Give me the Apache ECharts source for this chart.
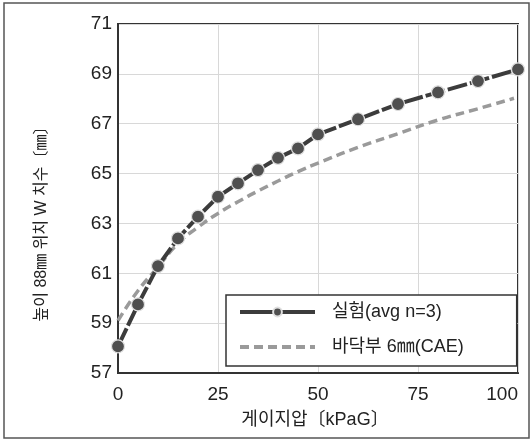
<!DOCTYPE html>
<html>
<head>
<meta charset="utf-8">
<script src="https://cdn.jsdelivr.net/npm/echarts@6/dist/echarts.min.js"></script>
<style>
  html, body { margin: 0; padding: 0; background: #fff; }
  #chart { width: 532px; height: 441px; }
</style>
</head>
<body>
<div id="chart"></div>
<script>
var FONT = "'Liberation Sans', 'Noto Sans CJK KR', sans-serif";

// 게이지압 (kPaG)
var expX = [0, 5, 10, 15, 20, 25, 30, 35, 40, 45, 50, 60, 70, 80, 90, 100];
var expY = [58.07, 59.75, 61.29, 62.40, 63.27, 64.07, 64.61, 65.14, 65.63, 66.01, 66.57, 67.18, 67.79, 68.26, 68.71, 69.18];

var caeX = [0, 5, 10, 15, 20, 25, 30, 35, 40, 45, 50, 60, 70, 80, 90, 99];
var caeY = [59.1, 60.3, 61.25, 62.2, 62.85, 63.4, 63.87, 64.3, 64.7, 65.08, 65.42, 66.05, 66.6, 67.15, 67.6, 68.02];

var xTicks = [0, 25, 50, 75, 100];
var yTicks = [57, 59, 61, 63, 65, 67, 69, 71];

var seriesNames = ['실험(avg n=3)', '바닥부 6㎜(CAE)'];

function pairs(xs, ys) {
  var out = [];
  for (var i = 0; i < xs.length; i++) out.push([xs[i], ys[i]]);
  return out;
}

var myChart = echarts.init(document.getElementById('chart'));

var option = {
  backgroundColor: '#fff',
  animation: false,
  grid: {
    left: 118,
    right: 14,
    top: 24,
    bottom: 68,
    show: true,
    borderColor: '#333',
    borderWidth: 2
  },
  xAxis: {
    type: 'value',
    min: xTicks[0],
    max: xTicks[xTicks.length - 1],
    interval: 25,
    axisLine: { show: true, lineStyle: { color: '#333', width: 2 } },
    axisTick: { show: false },
    axisLabel: {
      margin: 12,
      color: '#222',
      fontSize: 19,
      fontFamily: FONT,
      alignMaxLabel: 'right'
    },
    splitLine: { show: true, lineStyle: { color: '#d8d8d8', width: 1 } }
  },
  yAxis: {
    type: 'value',
    min: yTicks[0],
    max: yTicks[yTicks.length - 1],
    interval: 2,
    axisLine: { show: true, lineStyle: { color: '#333', width: 2 } },
    axisTick: { show: false },
    axisLabel: {
      margin: 6,
      color: '#222',
      fontSize: 19,
      fontFamily: FONT
    },
    splitLine: { show: true, lineStyle: { color: '#d8d8d8', width: 1 } }
  },
  legend: {
    left: 226,
    top: 295,
    orient: 'vertical',
    itemWidth: 75,
    itemHeight: 11,
    itemGap: 15,
    padding: [7, 53, 9, 12],
    borderColor: '#333',
    borderWidth: 1.5,
    backgroundColor: '#fff',
    textStyle: {
      fontSize: 18,
      lineHeight: 20,
      color: '#222',
      fontFamily: FONT,
      padding: [0, 0, 0, 12]
    },
    data: [
      { name: seriesNames[0], lineStyle: { type: 'solid', width: 4 } },
      { name: seriesNames[1], itemStyle: { opacity: 0 }, lineStyle: { width: 4, type: [9, 5] } }
    ]
  },
  graphic: [
    {
      type: 'text',
      x: 42,
      y: 220,
      rotation: Math.PI / 2,
      style: {
        text: '높이 88㎜ 위치 W 치수〔㎜〕',
        fontSize: 16,
        fontFamily: FONT,
        fill: '#222',
        align: 'center',
        verticalAlign: 'middle'
      }
    },
    {
      type: 'text',
      x: 315,
      y: 420,
      style: {
        text: '게이지압〔kPaG〕',
        fontSize: 18,
        fontFamily: FONT,
        fill: '#222',
        align: 'center',
        verticalAlign: 'middle'
      }
    },
    {
      type: 'rect',
      shape: { x: 4, y: 3, width: 525, height: 435 },
      style: { fill: 'none', stroke: '#555', lineWidth: 1.5 },
      silent: true
    }
  ],
  series: [
    {
      name: seriesNames[1],
      type: 'line',
      smooth: true,
      showSymbol: false,
      symbol: 'none',
      data: pairs(caeX, caeY),
      lineStyle: { color: '#9a9a9a', width: 3.5, type: [9, 5] },
      itemStyle: { color: '#9a9a9a' },
      z: 2
    },
    {
      name: seriesNames[0],
      type: 'line',
      data: pairs(expX, expY),
      symbol: 'circle',
      symbolSize: 13,
      lineStyle: { color: '#3c3c3c', width: 4, type: [20, 3] },
      itemStyle: { color: '#4f4f4f', borderColor: '#e0e0e0', borderWidth: 1.2 },
      z: 3
    }
  ]
};

myChart.setOption(option);
</script>
</body>
</html>
